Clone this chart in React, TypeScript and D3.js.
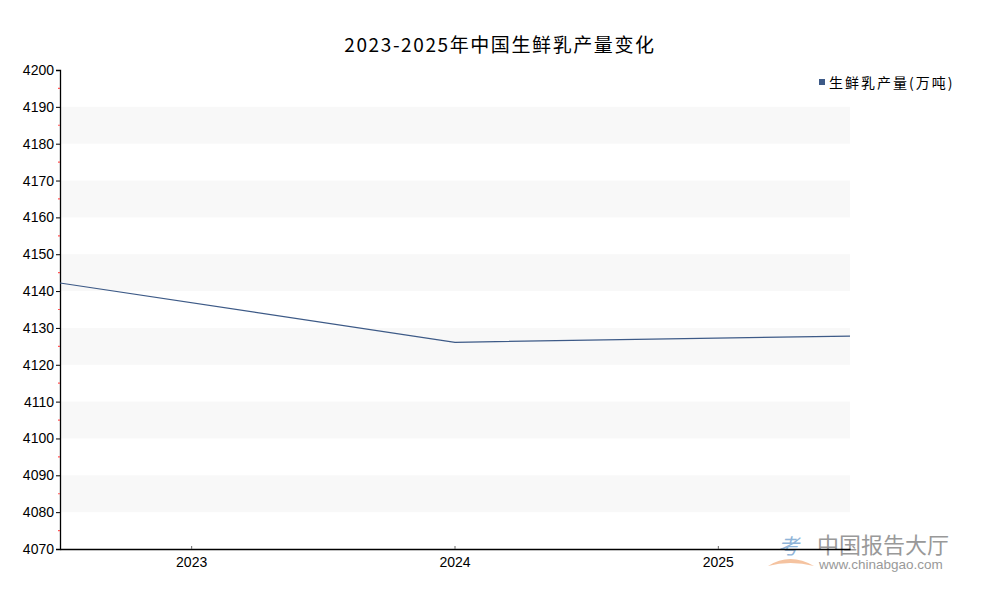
import React, { useRef, useEffect } from 'react';
import * as d3 from 'd3';

const years = ['2023', '2024', '2025'];
const output = [4142.2, 4126.1, 4127.8];
const yTicks = [4070, 4080, 4090, 4100, 4110, 4120, 4130, 4140, 4150, 4160, 4170, 4180, 4190, 4200];
const seriesName = '生鲜乳产量(万吨)';
const title = '2023-2025年中国生鲜乳产量变化';

function App() {
  const svgRef = useRef<SVGSVGElement>(null);

  useEffect(() => {
    const svg = d3.select(svgRef.current);
    svg.selectAll('*').remove();

    const width = 1000;
    const height = 600;
    const margin = { top: 70, right: 150, bottom: 51, left: 60 };
    const font = '"Liberation Sans", "Noto Sans CJK SC", sans-serif';

    const xBand = d3.scaleBand()
      .domain(years)
      .range([margin.left, width - margin.right]);

    const xLine = d3.scaleLinear()
      .domain([0, years.length - 1])
      .range([margin.left, width - margin.right]);

    const y = d3.scaleLinear()
      .domain([4070, 4200])
      .range([height - margin.bottom, margin.top]);

    // alternating grid bands
    const bands = yTicks.filter((t, i) => i < yTicks.length - 1 && i % 2 === 1);
    svg.append('g')
      .selectAll('rect')
      .data(bands)
      .join('rect')
      .attr('x', margin.left)
      .attr('width', width - margin.right - margin.left)
      .attr('y', d => y(d + 10))
      .attr('height', d => y(d) - y(d + 10))
      .attr('fill', '#f8f8f8');

    // watermark
    const wm = svg.append('g').attr('font-family', '"Noto Sans CJK SC", sans-serif');
    wm.append('path')
      .attr('d', 'M768,566 Q790,552 814,566 Q790,560 768,566 Z')
      .attr('fill', '#f5c3a0');
    wm.append('text')
      .attr('x', 778).attr('y', 554)
      .attr('font-size', 21).attr('font-style', 'italic')
      .attr('fill', '#8fb4d8')
      .text('考');
    wm.append('text')
      .attr('x', 817).attr('y', 553)
      .attr('font-size', 22)
      .attr('fill', '#999')
      .text('中国报告大厅');
    wm.append('text')
      .attr('x', 819).attr('y', 569)
      .attr('font-size', 13.5)
      .attr('font-family', '"Liberation Sans", sans-serif')
      .attr('fill', '#999')
      .text('www.chinabgao.com');

    // y axis
    const yAxis = svg.append('g')
      .attr('transform', `translate(${margin.left},0)`)
      .call(d3.axisLeft(y).tickValues(yTicks).tickSize(4).tickPadding(2).tickFormat(d3.format('d')));
    yAxis.select('.domain').attr('stroke', '#000').attr('stroke-width', 1.3);
    yAxis.selectAll('text')
      .attr('font-size', 14)
      .attr('font-family', font)
      .attr('fill', '#000');

    // red minor ticks
    svg.append('g')
      .selectAll('line')
      .data(yTicks.slice(0, -1).map(t => t + 5))
      .join('line')
      .attr('x1', margin.left - 2)
      .attr('x2', margin.left)
      .attr('y1', d => y(d))
      .attr('y2', d => y(d))
      .attr('stroke', '#ff5555')
      .attr('stroke-width', 1.2);

    // x axis
    const xAxis = svg.append('g')
      .attr('transform', `translate(0,${height - margin.bottom})`)
      .call(d3.axisBottom(xBand).tickSizeInner(-3).tickSizeOuter(0).tickPadding(8));
    xAxis.select('.domain').attr('stroke', '#000').attr('stroke-width', 1.3);
    xAxis.selectAll('.tick line').attr('stroke', '#666');
    xAxis.selectAll('text')
      .attr('font-size', 14)
      .attr('font-family', font)
      .attr('fill', '#000');

    // line
    const line = d3.line<number>()
      .x((d, i) => xLine(i))
      .y(d => y(d));

    svg.append('path')
      .datum(output)
      .attr('d', line)
      .attr('fill', 'none')
      .attr('stroke', '#3d5a87')
      .attr('stroke-width', 1.2);

    // title
    svg.append('text')
      .attr('x', 500)
      .attr('y', 52)
      .attr('text-anchor', 'middle')
      .attr('font-size', 19)
      .attr('letter-spacing', 1.6)
      .attr('font-family', '"Noto Sans CJK SC", sans-serif')
      .attr('fill', '#000')
      .text(title);

    // legend
    svg.append('rect')
      .attr('x', 819)
      .attr('y', 79)
      .attr('width', 6)
      .attr('height', 6)
      .attr('fill', '#3d5a87');
    svg.append('text')
      .attr('x', 829)
      .attr('y', 88)
      .attr('font-size', 14)
      .attr('letter-spacing', 2)
      .attr('font-family', '"Noto Sans CJK SC", sans-serif')
      .attr('fill', '#000')
      .text(seriesName);
  }, []);

  return (
    <svg
      ref={svgRef}
      width={1000}
      height={600}
      style={{ position: 'absolute', left: 0, top: 0, background: '#fff' }}
    ></svg>
  );
}

export default App;
